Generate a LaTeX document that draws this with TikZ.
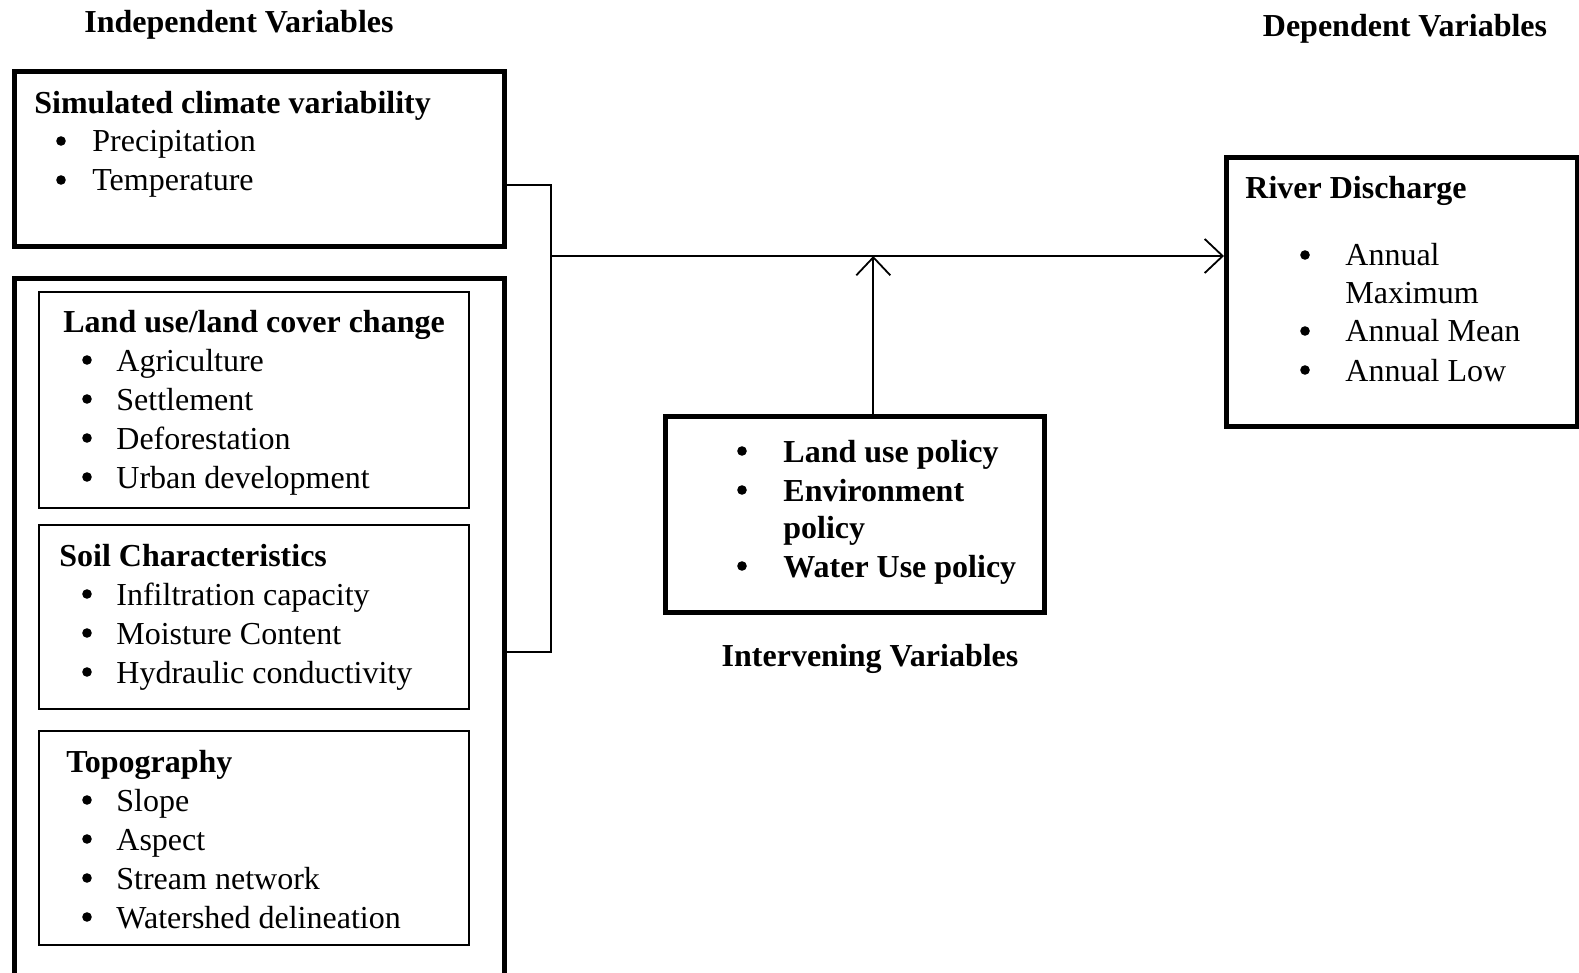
\documentclass[tikz,border=0pt]{standalone}
\usepackage{fontspec}
\setmainfont{Liberation Serif}
\usetikzlibrary{arrows.meta}
\begin{document}
\begin{tikzpicture}[x=0.5pt,y=-0.5pt,
  txt/.style={anchor=base west, inner sep=0pt, font=\fontsize{16}{19.5}\selectfont},
  hd/.style={anchor=base west, inner sep=0pt, font=\fontsize{16}{19.5}\selectfont\bfseries},
  ttl/.style={anchor=base, inner sep=0pt, font=\fontsize{16}{19.5}\selectfont\bfseries},
  bul/.style={circle, fill, inner sep=0pt, minimum size=4.8pt, yshift=5.5pt},
  thick box/.style={draw, line width=2.3pt, inner sep=0pt, anchor=north west},
  thin box/.style={draw, line width=1pt, inner sep=0pt, anchor=north west},
  conn/.style={line width=0.9pt},
  arr/.style={conn, -{Straight Barb[length=9pt,width=17pt,line width=0.9pt]}}]
\clip (0,0) rectangle (1579,973);
\fill[white] (0,0) rectangle (1579,973);

% titles
\node[ttl] (tInd) at (239,33) {Independent Variables};
\node[ttl] (tDep) at (1405,37) {Dependent Variables};
\node[ttl] (tInt) at (870,666) {Intervening Variables};

% boxes
\node[thick box, minimum width=490*0.5pt, minimum height=175*0.5pt] (climate) at (12,69) {};
\node[thick box, minimum width=490*0.5pt, minimum height=740*0.5pt] (outer) at (12,276) {};
\node[thin box, minimum width=430*0.5pt, minimum height=216*0.5pt] (lulc) at (38,291) {};
\node[thin box, minimum width=430*0.5pt, minimum height=184*0.5pt] (soil) at (38,524) {};
\node[thin box, minimum width=430*0.5pt, minimum height=214*0.5pt] (topo) at (38,730) {};
\node[thick box, minimum width=351*0.5pt, minimum height=269*0.5pt] (river) at (1224,155) {};
\node[thick box, minimum width=379*0.5pt, minimum height=196*0.5pt] (policy) at (663,414) {};

% climate box text
\node[hd] (h1) at (34,114) {Simulated climate variability};
\node[bul] (b11) at (61,152) {};
\node[txt] (c11) at (92,152) {Precipitation};
\node[bul] (b12) at (61,191) {};
\node[txt] (c12) at (92,191) {Temperature};

% LULC
\node[hd] (h2) at (63,332) {Land use/land cover change};
\node[bul] (b21) at (87,371) {};
\node[txt] (c21) at (116,371) {Agriculture};
\node[bul] (b22) at (87,410) {};
\node[txt] (c22) at (116,410) {Settlement};
\node[bul] (b23) at (87,449) {};
\node[txt] (c23) at (116,449) {Deforestation};
\node[bul] (b24) at (87,488) {};
\node[txt] (c24) at (116,488) {Urban development};

% Soil
\node[hd] (h3) at (59,566) {Soil Characteristics};
\node[bul] (b31) at (87,605) {};
\node[txt] (c31) at (116,605) {Infiltration capacity};
\node[bul] (b32) at (87,644) {};
\node[txt] (c32) at (116,644) {Moisture Content};
\node[bul] (b33) at (87,683) {};
\node[txt] (c33) at (116,683) {Hydraulic conductivity};

% Topography
\node[hd] (h4) at (66,772) {Topography};
\node[bul] (b41) at (87,811) {};
\node[txt] (c41) at (116,811) {Slope};
\node[bul] (b42) at (87,850) {};
\node[txt] (c42) at (116,850) {Aspect};
\node[bul] (b43) at (87,889) {};
\node[txt] (c43) at (116,889) {Stream network};
\node[bul] (b44) at (87,928) {};
\node[txt] (c44) at (116,928) {Watershed delineation};

% River discharge
\node[hd] (h5) at (1245,199) {River Discharge};
\node[bul] (b51) at (1305,266) {};
\node[txt] (c51) at (1345,266) {Annual};
\node[txt] (c51b) at (1345,303) {Maximum};
\node[bul] (b52) at (1305,342) {};
\node[txt] (c52) at (1345,342) {Annual Mean};
\node[bul] (b53) at (1305,381) {};
\node[txt] (c53) at (1345,381) {Annual Low};

% Policies
\node[bul] (b61) at (742,462) {};
\node[hd] (c61) at (783,462) {Land use policy};
\node[bul] (b62) at (742,501) {};
\node[hd] (c62) at (783,501) {Environment};
\node[hd] (c62b) at (783,538) {policy};
\node[bul] (b63) at (742,577) {};
\node[hd] (c63) at (783,577) {Water Use policy};

% connectors
\coordinate (j1) at (551,185);
\coordinate (j2) at (551,652);
\coordinate (jm) at (551,256);
\draw[conn] (climate.east |- j1) -- (j1) -- (j2) -- (outer.east |- j2);
\draw[arr] (jm) -- (river.west |- jm);
\draw[arr] ([xshift=9.25pt]policy.north) -- ([xshift=9.25pt]policy.north |- jm);
\end{tikzpicture}
\end{document}
